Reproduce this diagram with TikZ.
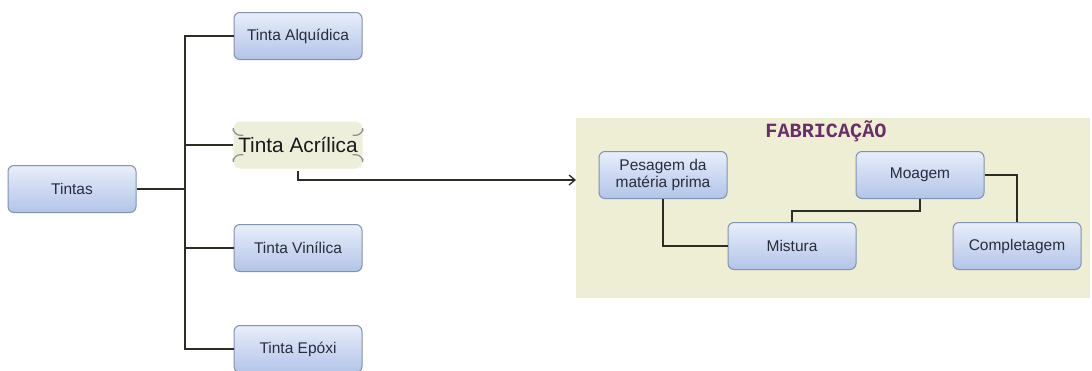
\documentclass[tikz,border=0pt]{standalone}
\usepackage{fontspec}
\setmainfont{Liberation Sans}
\newfontfamily\monofnt{Liberation Mono}
\usetikzlibrary{arrows.meta,calc}
\definecolor{boxtop}{RGB}{232,238,250}
\definecolor{boxbot}{RGB}{178,196,232}
\definecolor{boxline}{RGB}{128,146,176}
\definecolor{panel}{RGB}{237,238,212}
\definecolor{acrfill}{RGB}{238,239,218}
\definecolor{titlecol}{RGB}{105,45,105}
\definecolor{txt}{RGB}{40,45,60}
\definecolor{conn}{RGB}{45,45,35}
\tikzset{
  box/.style={draw=boxline, line width=1pt, rounded corners=6pt,
    top color=boxtop, bottom color=boxbot, text=txt,
    minimum width=128pt, minimum height=47pt, align=center,
    font=\fontsize{15.5}{17}\selectfont, inner sep=2pt},
  link/.style={draw=conn, line width=1.2pt},
}
\begin{document}
\begin{tikzpicture}[x=1pt,y=-1pt]
\useasboundingbox (0,0) rectangle (1092,370);
\fill[white] (0,0) rectangle (1092,370);
% panel
\fill[panel] (576,118) rectangle (1090,298);
\node[font=\monofnt\bfseries\fontsize{20.2}{22}\selectfont, text=titlecol] (title) at (826,131) {FABRICAÇÃO};
% left tree
\node[box] (tintas) at (72,189) {Tintas};
\node[box] (alq) at (298,36) {Tinta Alquídica};
\node[rounded corners=7pt, fill=acrfill, minimum width=129pt, minimum height=47pt,
  font=\fontsize{20.8}{23}\selectfont, text=black!90, inner sep=2pt] (acr) at (298,145) {Tinta Acrílica};
\node[box] (vin) at (298,248) {Tinta Vinílica};
\node[box] (epo) at (298,349) {Tinta Epóxi};
% corner marks of Tinta Acrílica
\begin{scope}[draw=black!45, line width=1.2pt]
\draw ($(acr.north west)+(0,10)$) -- ++(0,-3) arc[start angle=180,end angle=90,radius=7] -- ++(3,0);
\draw ($(acr.north east)+(0,10)$) -- ++(0,-3) arc[start angle=0,end angle=90,radius=7] -- ++(-3,0);
\draw ($(acr.south west)+(0,-10)$) -- ++(0,3) arc[start angle=180,end angle=270,radius=7] -- ++(3,0);
\draw ($(acr.south east)+(0,-10)$) -- ++(0,3) arc[start angle=0,end angle=-90,radius=7] -- ++(-3,0);
\end{scope}
\coordinate (trunk) at (185,189);
\draw[link] (tintas.east) -- (trunk);
\draw[link] (alq.west) -| (trunk);
\draw[link] (epo.west) -| (trunk);
\draw[link] (acr.west) -- (acr.west -| trunk);
\draw[link] (vin.west) -- (vin.west -| trunk);
% arrow to panel
\coordinate (arrend) at (576,180);
\draw[link, -{Straight Barb[length=6pt,width=10pt,line width=1.3pt]}] ($(acr.south)+(0,2)$) |- (arrend);
% fabrication nodes
\node[box] (pes) at (663,175) {Pesagem da\\matéria prima};
\node[box] (moa) at (920,175) {Moagem};
\node[box] (mis) at (792,246) {Mistura};
\node[box] (com) at (1017,246) {Completagem};
\draw[link] (pes.south) |- (mis.west);
\draw[link] (moa.south) -- ++(0,12) -| (mis.north);
\draw[link] (moa.east) -| (com.north);
\end{tikzpicture}
\end{document}
